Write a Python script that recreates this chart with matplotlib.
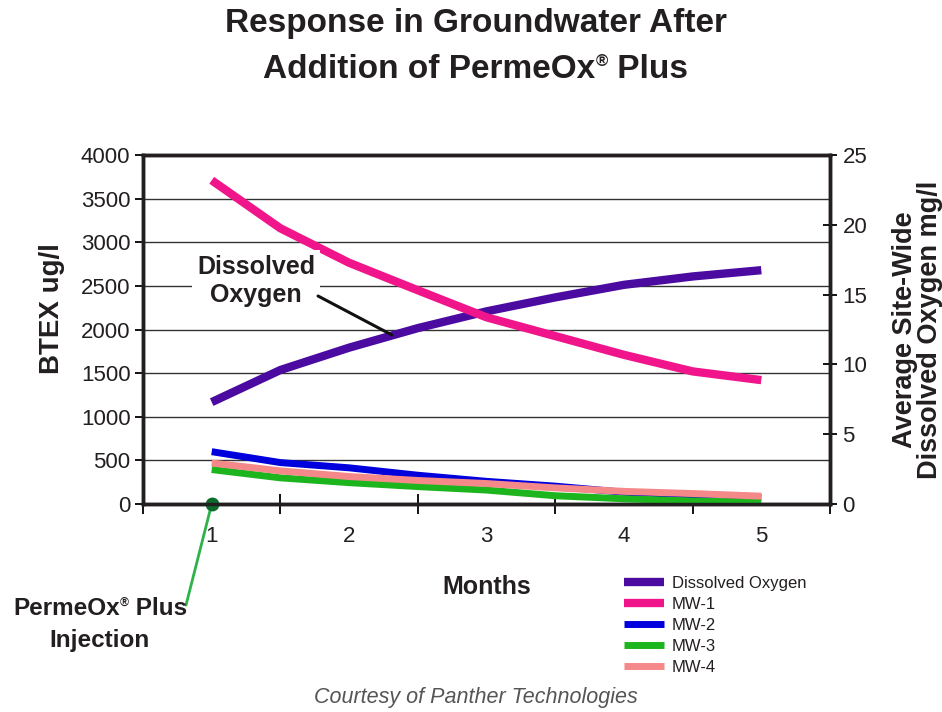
import matplotlib
matplotlib.use("Agg")
import matplotlib.pyplot as plt
import matplotlib.transforms as mtransforms
from matplotlib.offsetbox import TextArea, HPacker, AnnotationBbox

# values
months = [1, 1.5, 2, 2.5, 3, 3.5, 4, 4.5, 5]
dissolved_oxygen = [7.3, 9.6, 11.2, 12.6, 13.8, 14.8, 15.7, 16.3, 16.75]
mw1 = [3710, 3160, 2765, 2450, 2140, 1925, 1710, 1520, 1420]
mw2 = [600, 475, 415, 330, 260, 205, 135, 105, 75]
mw3 = [395, 300, 245, 200, 160, 95, 60, 35, 20]
mw4 = [470, 380, 315, 270, 235, 185, 145, 120, 90]
month_labels = ["1", "2", "3", "4", "5"]

plt.rcParams["font.family"] = ["Liberation Sans", "DejaVu Sans"]
txt = "#231f20"

fig = plt.figure(figsize=(9.42, 7.12), dpi=100)
ax = fig.add_axes([0.1518, 0.2921, 0.7293, 0.4902])
ax2 = ax.twinx()

ax.set_xlim(0.5, 5.5)
ax.set_ylim(0, 4000)
ax2.set_ylim(0, 25)

# DO uses the right scale but is drawn in the main axes so MW-1 sits on top
do_trans = mtransforms.blended_transform_factory(ax.transData, ax2.transData)
ax.plot(months, dissolved_oxygen, color="#4b0aa0", lw=6, transform=do_trans,
        label="Dissolved Oxygen", zorder=3, solid_capstyle="butt")
ax.plot(months, mw1, color="#f0158a", lw=6, label="MW-1", zorder=4, solid_capstyle="butt")
ax.plot(months, mw2, color="#0000dd", lw=5, label="MW-2", zorder=4, solid_capstyle="butt")
ax.plot(months, mw3, color="#1db51d", lw=5, label="MW-3", zorder=4, solid_capstyle="butt")
ax.plot(months, mw4, color="#f58888", lw=5, label="MW-4", zorder=5, solid_capstyle="butt")

# grid / ticks
ax.set_yticks(range(0, 4001, 500))
ax.yaxis.grid(True, color="#333333", lw=1)
ax.set_axisbelow(True)
ax.set_xticks([0.5, 1.5, 2.5, 3.5, 4.5, 5.5])
ax.set_xticklabels([])
ax.set_xticks(months[::2], minor=True)
ax.set_xticklabels(month_labels, minor=True, fontsize=16, color=txt)
ax.tick_params(axis="x", which="major", direction="inout", length=14, width=1.3)
ax.tick_params(axis="x", which="minor", length=0, pad=16)
ax.tick_params(axis="y", direction="out", length=6, width=1.3, pad=3,
               labelsize=16, labelcolor=txt)
ax2.set_yticks(range(0, 26, 5))
ax2.tick_params(axis="y", direction="inout", length=10, width=1.3, pad=4,
                labelsize=16, labelcolor=txt)

for a in (ax, ax2):
    for s in a.spines.values():
        s.set_linewidth(2.5)
        s.set_color("#231f20")

ax.set_ylabel("BTEX ug/l", fontsize=20, fontweight="bold", color=txt)
ax.yaxis.set_label_coords(-0.133, 0.56)
ax.yaxis.label.set_va("center")
ax2.set_ylabel("Average Site-Wide\nDissolved Oxygen mg/l", fontsize=19.5,
               fontweight="bold", color=txt, linespacing=0.95)
ax2.yaxis.set_label_coords(1.128, 0.5)
ax2.yaxis.label.set_va("center")

fig.text(0.517, 0.176, "Months", fontsize=18, fontweight="bold",
         color=txt, ha="center", va="center")


def reg_line(x, y, before, after, size):
    # text with a small raised registered sign
    props = dict(size=size, weight="bold", color=txt)
    parts = [TextArea(before, textprops=props),
             TextArea("\u00ae", textprops=dict(size=size * 0.5, weight="bold", color=txt)),
             TextArea(after, textprops=props)]
    box = HPacker(children=parts, align="top", pad=0, sep=0)
    ab = AnnotationBbox(box, (x, y), xycoords="figure fraction", frameon=False,
                        box_alignment=(0.5, 0.5), pad=0)
    fig.add_artist(ab)


fig.text(0.505, 0.967, "Response in Groundwater After", fontsize=24,
         fontweight="bold", color=txt, ha="center", va="center")
reg_line(0.505, 0.903, "Addition of PermeOx", " Plus", 24)

fig.text(0.505, 0.02, "Courtesy of Panther Technologies", fontsize=15.5,
         style="italic", color="#555555", ha="center", va="center")

# callout for dissolved oxygen
ax.text(1.322, 2556, "Dissolved\nOxygen", fontsize=18, fontweight="bold", color=txt,
        ha="center", va="center", linespacing=1.2, zorder=6,
        bbox=dict(boxstyle="square,pad=0.2", fc="white", ec="none"))
ax.annotate("", xy=(2.312, 1937), xytext=(1.774, 2384),
            arrowprops=dict(arrowstyle="-", color="#111111", lw=2.2,
                            shrinkA=0, shrinkB=0), zorder=6)

# injection marker
ax.annotate("", xy=(1, 0), xytext=(0.813, -1158),
            arrowprops=dict(arrowstyle="-", color="#2db34a", lw=2,
                            shrinkA=0, shrinkB=0),
            annotation_clip=False, zorder=7)
ax.plot([1], [0], "o", color="#0d6b2b", ms=9, clip_on=False, zorder=8)
reg_line(0.106, 0.145, "PermeOx", " Plus", 17.5)
fig.text(0.106, 0.101, "Injection", fontsize=17.5, fontweight="bold", color=txt,
         ha="center", va="center")

leg = ax.legend(loc="upper left", bbox_to_anchor=(0.662, 0.191),
                bbox_transform=fig.transFigure, frameon=False,
                prop={"size": 12}, handlelength=2.45,
                handletextpad=0.45, labelspacing=0.36, borderpad=0,
                borderaxespad=0)
for t in leg.get_texts():
    t.set_color(txt)

fig.savefig("out.png", dpi=100)
